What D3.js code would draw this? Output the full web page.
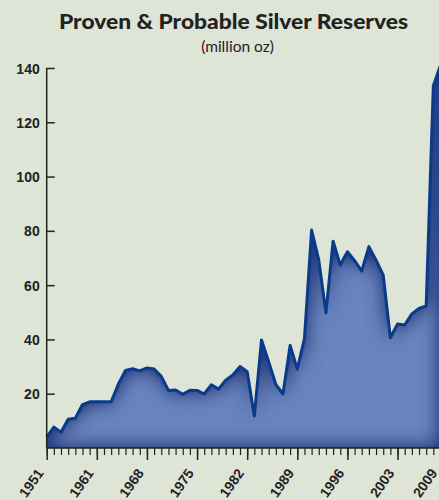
<!DOCTYPE html>
<html><head><meta charset="utf-8">
<script src="https://cdn.jsdelivr.net/npm/d3@7"></script>
<style>
html,body{margin:0;padding:0;background:#dee4d6;}
svg{display:block;}
</style></head>
<body>
<svg id="chart" width="439" height="500"></svg>
<script>
const titleText = "Proven & Probable Silver Reserves";
const subtitleText = "(million oz)";
const years = d3.range(1954, 2010);
const reserves = [4, 7.7, 5.8, 10.6, 11, 16, 17, 17, 17, 17,
  23.5, 28.6, 29.2, 28.4, 29.5, 29.1, 26.4, 21.2, 21.4, 19.8,
  21.3, 21.2, 19.9, 23.3, 21.7, 25, 26.9, 30, 28.1, 11.8,
  39.8, 31.8, 23.4, 19.9, 37.8, 29, 40.4, 80.3, 69.2, 49.8,
  76.2, 67.4, 72.3, 69, 65.2, 74.2, 69.2, 63.7, 40.6, 45.7,
  45.3, 49.4, 51.4, 52.3, 133.5, 141];
const yTicks = [20, 40, 60, 80, 100, 120, 140];
const xTickYears = [1954, 1961, 1968, 1975, 1982, 1989, 1996, 2003, 2009];
const xTickLabels = ["1951", "1961", "1968", "1975", "1982", "1989", "1996", "2003", "2009"];

const data = years.map((y, i) => ({year: y, value: reserves[i]}));
const svg = d3.select("#chart");
const W = 439, H = 500;
svg.append("rect").attr("width", W).attr("height", H).attr("fill", "#dee4d6");

const x = d3.scaleLinear().domain([1954, 2009]).range([46.7, 440.5]);
const y = d3.scaleLinear().domain([0, 140]).range([448, 68]);

// inner glow filter
const defs = svg.append("defs");
const f = defs.append("filter").attr("id", "inner").attr("x", "-5%").attr("y", "-5%").attr("width", "110%").attr("height", "110%");
f.append("feComponentTransfer").attr("in", "SourceAlpha").attr("result", "inv")
  .append("feFuncA").attr("type", "table").attr("tableValues", "1 0");
f.append("feGaussianBlur").attr("in", "inv").attr("stdDeviation", 10).attr("result", "blur");
f.append("feFlood").attr("flood-color", "#17347c").attr("result", "col");
f.append("feComposite").attr("in", "col").attr("in2", "blur").attr("operator", "in").attr("result", "shadow");
f.append("feComposite").attr("in", "shadow").attr("in2", "SourceAlpha").attr("operator", "in").attr("result", "shadowIn");
const m = f.append("feMerge");
m.append("feMergeNode").attr("in", "SourceGraphic");
m.append("feMergeNode").attr("in", "shadowIn");
m.append("feMergeNode").attr("in", "shadowIn");

const area = d3.area().x(d => x(d.year)).y0(y(0)).y1(d => y(d.value));
const line = d3.line().x(d => x(d.year)).y(d => y(d.value));

svg.append("path").datum(data).attr("d", area)
  .attr("fill", "#6a84bf").attr("filter", "url(#inner)");
svg.append("path").datum(data).attr("d", line)
  .attr("fill", "none").attr("stroke", "#0a3b8a").attr("stroke-width", 3)
  .attr("stroke-linejoin", "round");

// Y axis
const yAxis = svg.append("g").attr("transform", "translate(46.7,0)")
  .call(d3.axisRight(y).tickValues(yTicks).tickSize(8).tickFormat(""));
yAxis.select(".domain").attr("d", `M0,${y(140)}V${y(0)}`).attr("stroke", "#222").attr("stroke-width", 1.5);
yAxis.selectAll(".tick line").attr("stroke", "#222").attr("stroke-width", 1.5);
yAxis.selectAll(".tick").append("text")
  .attr("x", -7).attr("dy", "0.36em").attr("text-anchor", "end")
  .attr("fill", "#222").style("font", "bold 14px 'Liberation Sans', Arial, sans-serif")
  .text(d => d);

// X axis minor ticks
const xMinor = svg.append("g").attr("transform", `translate(0,${y(0)})`)
  .call(d3.axisBottom(x).tickValues(years).tickSize(7).tickFormat(""));
xMinor.select(".domain").attr("d", `M46.7,0H439`).attr("stroke", "#222").attr("stroke-width", 1.5);
xMinor.selectAll(".tick line").attr("stroke", "#222").attr("stroke-width", 1.2);

// X axis major ticks + labels
const xMajor = svg.append("g").attr("transform", `translate(0,${y(0)})`)
  .call(d3.axisBottom(x).tickValues(xTickYears).tickSize(12).tickFormat((d, i) => xTickLabels[i]));
xMajor.select(".domain").remove();
xMajor.selectAll(".tick line").attr("stroke", "#222").attr("stroke-width", 1.5);
xMajor.selectAll(".tick text")
  .attr("y", 0).attr("dy", 0)
  .attr("text-anchor", "end")
  .attr("transform", "translate(-3,25) rotate(-55)")
  .attr("fill", "#222").style("font", "bold 14px 'Liberation Sans', Arial, sans-serif");

// titles
svg.append("text").attr("x", 233.5).attr("y", 29).attr("text-anchor", "middle")
  .attr("fill", "#222").style("font", "900 20.5px Lato, sans-serif")
  .attr("textLength", 349).attr("lengthAdjust", "spacingAndGlyphs").text(titleText);
svg.append("text").attr("x", 237.5).attr("y", 52).attr("text-anchor", "middle")
  .attr("fill", "#222").style("font", "15.5px Lato, sans-serif").text(subtitleText);
</script>
</body></html>
